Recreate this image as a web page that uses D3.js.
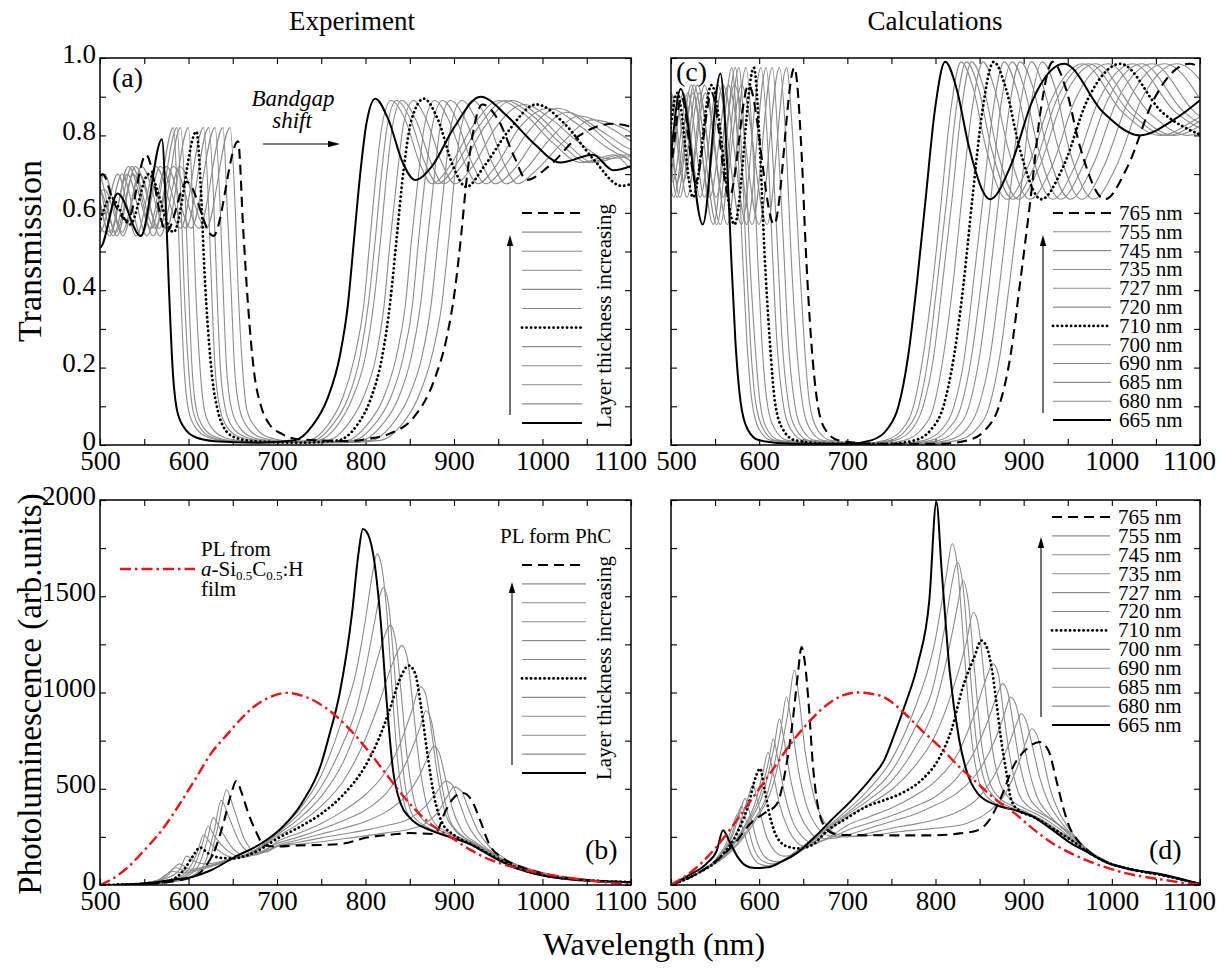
<!DOCTYPE html>
<html>
<head>
<meta charset="utf-8">
<script src="https://cdn.jsdelivr.net/npm/d3@7"></script>
<style>
  body { margin: 0; background: #fff; }
  svg { display: block; }
</style>
</head>
<body>
<svg id="chart" width="1227" height="969"></svg>
<script>
// ---------- axis ticks ----------
const xTickValues = [500,550,600,650,700,750,800,850,900,950,1000,1050,1100];
const xTickLabels = ["500","","600","","700","","800","","900","","1000","","1100"];
const transTickValues = [0,0.1,0.2,0.3,0.4,0.5,0.6,0.7,0.8,0.9,1.0];
const transTickLabels = ["0","","0.2","","0.4","","0.6","","0.8","","1.0"];
const plTickValues = [0,250,500,750,1000,1250,1500,1750,2000];
const plTickLabels = ["0","","500","","1000","","1500","","2000"];

// layer thicknesses (nm), thinnest first
const thickness = [665,680,685,690,700,710,720,727,735,745,755,765];

// ---------- (a) measured transmission: [wavelength nm, T] ----------
const expT665 = [[428,.56],[445,.62],[462,.55],[480,.64],[500,.51],[520,.65],[546,.54],[570,.79],[575,.58],[578,.40],[582,.20],[587,.09],[595,.045],[608,.02],[630,.01],[680,.006],[720,.012],[740,.05],[757,.12],[771,.23],[780,.36],[787,.53],[794,.70],[801,.83],[811,.895],[826,.84],[842,.73],[856,.685],[875,.72],[900,.82],[930,.90],[960,.85],[990,.78],[1020,.73],[1057,.75],[1080,.71],[1110,.73]];
const expT680 = [[438,.56],[455,.66],[472,.55],[491,.70],[511,.54],[532,.72],[558,.56],[583,.82],[588,.60],[591,.41],[595,.20],[600,.09],[608,.045],[622,.02],[644,.01],[695,.006],[736,.012],[757,.05],[774,.12],[788,.23],[798,.36],[805,.53],[812,.70],[819,.83],[829,.89],[845,.84],[861,.73],[875,.675],[895,.72],[920,.82],[951,.89],[982,.85],[1012,.78],[1043,.73],[1081,.75],[1104,.71],[1135,.73]];
const expT685 = [[441,.56],[458,.66],[476,.55],[494,.70],[515,.54],[536,.72],[562,.56],[587,.82],[592,.60],[595,.41],[600,.20],[605,.09],[613,.045],[626,.02],[649,.01],[700,.006],[742,.012],[762,.05],[780,.12],[794,.23],[803,.36],[811,.53],[818,.70],[825,.83],[835,.89],[851,.84],[867,.73],[882,.675],[901,.72],[927,.82],[958,.89],[989,.85],[1020,.78],[1051,.73],[1089,.75],[1112,.71],[1143,.73]];
const expT690 = [[444,.56],[462,.66],[479,.55],[498,.70],[519,.54],[540,.72],[567,.56],[591,.82],[597,.60],[600,.41],[604,.20],[609,.09],[617,.045],[631,.02],[654,.01],[706,.006],[747,.012],[768,.05],[785,.12],[800,.23],[809,.36],[817,.53],[824,.70],[831,.83],[841,.89],[857,.84],[874,.73],[888,.675],[908,.72],[934,.82],[965,.89],[996,.85],[1027,.78],[1058,.73],[1097,.75],[1121,.71]];
const expT700 = [[451,.56],[468,.66],[486,.55],[505,.70],[526,.54],[547,.72],[575,.56],[600,.82],[605,.60],[608,.41],[613,.20],[618,.09],[626,.045],[640,.02],[663,.01],[716,.006],[758,.012],[779,.05],[797,.12],[812,.23],[821,.36],[828,.53],[836,.70],[843,.83],[854,.89],[869,.84],[886,.73],[901,.675],[921,.72],[947,.82],[979,.88],[1011,.84],[1042,.78],[1074,.74],[1113,.75]];
const expT710 = [[457,.56],[475,.62],[493,.55],[512,.64],[534,.57],[555,.70],[583,.55],[609,.81],[614,.66],[618,.45],[622,.30],[627,.17],[633,.09],[640,.045],[652,.02],[673,.01],[726,.006],[769,.012],[790,.05],[806,.12],[819,.23],[828,.37],[835,.53],[843,.71],[852,.84],[866,.895],[882,.84],[899,.72],[914,.667],[934,.72],[961,.81],[993,.88],[1025,.83],[1057,.74],[1089,.67],[1128,.71]];
const expT720 = [[463,.56],[482,.66],[500,.55],[520,.70],[541,.54],[563,.72],[591,.56],[617,.82],[623,.60],[626,.41],[630,.20],[636,.09],[644,.045],[658,.02],[682,.01],[736,.006],[780,.012],[801,.05],[820,.12],[835,.23],[845,.36],[852,.53],[860,.70],[867,.83],[878,.89],[894,.84],[912,.73],[927,.675],[947,.72],[974,.82],[1007,.87],[1039,.83],[1072,.77],[1104,.73]];
const expT727 = [[468,.56],[486,.66],[505,.55],[525,.70],[547,.54],[568,.72],[597,.56],[623,.82],[629,.60],[632,.41],[636,.20],[642,.09],[650,.045],[665,.02],[689,.01],[743,.006],[787,.012],[809,.05],[828,.12],[843,.23],[853,.36],[860,.53],[868,.70],[876,.83],[887,.89],[903,.84],[920,.73],[936,.675],[957,.72],[984,.81],[1017,.87],[1050,.83],[1082,.77],[1115,.73]];
const expT735 = [[473,.56],[492,.66],[511,.55],[531,.70],[553,.54],[575,.72],[603,.56],[630,.82],[636,.60],[639,.41],[643,.20],[649,.09],[658,.045],[672,.02],[696,.01],[752,.006],[796,.012],[818,.05],[837,.12],[852,.23],[862,.36],[870,.53],[878,.70],[885,.83],[896,.89],[913,.84],[931,.73],[946,.675],[967,.71],[995,.80],[1028,.86],[1061,.82],[1094,.77],[1127,.74]];
const expT745 = [[479,.56],[499,.66],[518,.55],[538,.70],[560,.54],[583,.72],[612,.56],[639,.82],[644,.60],[648,.41],[652,.20],[658,.09],[667,.045],[681,.02],[706,.01],[762,.006],[807,.012],[829,.05],[848,.12],[864,.23],[874,.36],[882,.53],[890,.70],[897,.83],[909,.89],[925,.84],[943,.73],[959,.675],[980,.71],[1008,.79],[1042,.85],[1076,.82],[1109,.77]];
const expT755 = [[486,.56],[505,.66],[525,.55],[545,.70],[568,.54],[590,.72],[620,.56],[647,.82],[653,.60],[656,.41],[661,.20],[666,.09],[676,.045],[690,.02],[715,.01],[772,.006],[817,.012],[840,.05],[859,.12],[875,.23],[886,.36],[894,.53],[901,.70],[909,.83],[921,.89],[938,.84],[956,.73],[972,.675],[993,.71],[1022,.78],[1056,.84],[1090,.82],[1124,.77]];
const expT765 = [[480,.58],[492,.64],[503,.70],[515,.63],[531,.58],[552,.75],[575,.55],[598,.68],[628,.54],[656,.785],[662,.55],[667,.37],[674,.19],[682,.10],[691,.055],[706,.028],[725,.015],[782,.01],[803,.016],[828,.03],[854,.07],[878,.17],[892,.28],[901,.40],[908,.54],[914,.68],[921,.80],[932,.88],[950,.84],[969,.74],[982,.685],[1007,.72],[1042,.80],[1080,.83],[1104,.82]];

// ---------- (c) calculated transmission ----------
const calcT665 = [[432,.70],[445,.90],[459,.68],[475,.91],[492,.64],[511,.92],[536,.57],[556,.96],[563,.76],[568,.50],[573,.27],[579,.11],[587,.04],[600,.012],[640,.003],[700,.003],[727,.012],[745,.04],[758,.10],[769,.23],[779,.42],[789,.64],[799,.86],[811,.99],[824,.92],[838,.77],[862,.635],[885,.72],[910,.89],[946,.985],[990,.86],[1032,.80],[1070,.84],[1110,.91]];
const calcT680 = [[442,.70],[455,.90],[469,.68],[486,.91],[503,.64],[523,.93],[548,.57],[569,.975],[576,.76],[581,.50],[586,.27],[592,.11],[600,.04],[614,.012],[654,.003],[716,.003],[743,.012],[762,.04],[775,.10],[786,.23],[797,.42],[807,.64],[817,.86],[829,.99],[843,.92],[857,.77],[881,.635],[905,.72],[931,.89],[967,.985],[1012,.86],[1055,.80],[1094,.84],[1135,.91]];
const calcT685 = [[445,.70],[458,.90],[473,.68],[489,.91],[507,.64],[526,.93],[552,.57],[573,.975],[580,.76],[585,.50],[590,.27],[596,.11],[605,.04],[618,.012],[659,.003],[721,.003],[749,.012],[767,.04],[781,.10],[792,.23],[802,.42],[813,.64],[823,.86],[835,.99],[849,.92],[863,.77],[888,.635],[912,.72],[937,.89],[974,.985],[1020,.86],[1063,.80],[1102,.84],[1143,.91]];
const calcT690 = [[448,.70],[462,.90],[476,.68],[493,.91],[510,.64],[530,.93],[556,.57],[577,.975],[584,.76],[589,.50],[595,.27],[601,.11],[609,.04],[623,.012],[664,.003],[726,.003],[754,.012],[773,.04],[786,.10],[798,.23],[808,.42],[819,.64],[829,.86],[841,.99],[855,.92],[869,.77],[894,.635],[918,.72],[944,.89],[982,.985],[1027,.86],[1071,.80],[1110,.84]];
const calcT700 = [[455,.70],[468,.90],[483,.68],[500,.91],[518,.64],[538,.93],[564,.57],[585,.975],[593,.76],[598,.50],[603,.27],[609,.11],[618,.04],[632,.012],[674,.003],[737,.003],[765,.012],[784,.04],[798,.10],[809,.23],[820,.42],[830,.64],[841,.86],[854,.99],[867,.92],[882,.77],[907,.635],[932,.72],[958,.89],[996,.985],[1042,.86],[1086,.80],[1126,.84]];
const calcT710 = [[461,.70],[475,.90],[490,.68],[507,.91],[525,.64],[546,.93],[572,.57],[594,.975],[601,.76],[606,.50],[612,.27],[618,.11],[627,.04],[641,.012],[683,.003],[747,.003],[776,.012],[795,.04],[809,.10],[821,.23],[832,.42],[842,.64],[853,.86],[866,.99],[880,.92],[895,.77],[920,.635],[945,.72],[972,.89],[1010,.985],[1057,.86],[1102,.80]];
const calcT720 = [[468,.70],[482,.90],[497,.68],[514,.91],[533,.64],[553,.93],[580,.57],[602,.975],[610,.76],[615,.50],[620,.27],[627,.11],[636,.04],[650,.012],[693,.003],[758,.003],[787,.012],[807,.04],[821,.10],[833,.23],[843,.42],[854,.64],[865,.86],[878,.99],[892,.92],[907,.77],[933,.635],[958,.72],[985,.89],[1024,.985],[1072,.86],[1117,.80]];
const calcT727 = [[472,.70],[486,.90],[502,.68],[519,.91],[538,.64],[559,.93],[586,.57],[608,.975],[615,.76],[621,.50],[626,.27],[633,.11],[642,.04],[656,.012],[700,.003],[765,.003],[795,.012],[814,.04],[829,.10],[841,.23],[852,.42],[863,.64],[873,.86],[887,.99],[901,.92],[916,.77],[942,.635],[967,.72],[995,.89],[1034,.985],[1082,.86],[1128,.80]];
const calcT735 = [[477,.70],[492,.90],[507,.68],[525,.91],[544,.64],[565,.93],[592,.57],[615,.975],[622,.76],[628,.50],[633,.27],[640,.11],[649,.04],[663,.012],[707,.003],[774,.003],[804,.012],[823,.04],[838,.10],[850,.23],[861,.42],[872,.64],[883,.86],[896,.99],[911,.92],[926,.77],[953,.635],[978,.72],[1006,.89],[1046,.985],[1094,.86],[1141,.80]];
const calcT745 = [[484,.70],[499,.90],[514,.68],[532,.91],[551,.64],[572,.93],[600,.57],[623,.975],[631,.76],[636,.50],[642,.27],[649,.11],[658,.04],[672,.012],[717,.003],[784,.003],[814,.012],[835,.04],[849,.10],[862,.23],[873,.42],[884,.64],[895,.86],[909,.99],[923,.92],[939,.77],[966,.635],[991,.72],[1019,.89],[1060,.985],[1109,.86]];
const calcT755 = [[490,.70],[505,.90],[521,.68],[539,.91],[559,.64],[580,.93],[609,.57],[631,.975],[639,.76],[645,.50],[651,.27],[657,.11],[666,.04],[681,.012],[727,.003],[795,.003],[825,.012],[846,.04],[861,.10],[873,.23],[884,.42],[896,.64],[907,.86],[921,.99],[936,.92],[951,.77],[979,.635],[1005,.72],[1033,.89],[1074,.985],[1124,.86]];
const calcT765 = [[482,.90],[497,.70],[512,.90],[528,.68],[546,.91],[566,.64],[588,.93],[617,.57],[640,.975],[648,.76],[653,.50],[659,.27],[666,.11],[675,.04],[690,.012],[736,.003],[805,.003],[836,.012],[857,.04],[872,.10],[885,.23],[896,.42],[908,.64],[919,.86],[933,.99],[948,.92],[964,.77],[992,.635],[1018,.72],[1047,.89],[1088,.985],[1139,.86]];

// ---------- (b) measured photoluminescence ----------
const expPL665 = [[500,0],[530,3],[555,10],[578,25],[604,42],[626,78],[652,145],[683,218],[706,300],[728,425],[750,630],[758,760],[771,1000],[785,1420],[792,1720],[797,1850],[803,1820],[810,1680],[817,1380],[824,950],[831,600],[840,420],[850,350],[873,285],[896,248],[919,210],[942,150],[966,95],[990,60],[1035,27],[1070,18],[1100,15]];
const expPL680 = [[500,0],[540,6],[565,25],[582,70],[595,62],[615,82],[640,118],[665,160],[685,210],[700,275],[725,390],[750,570],[775,880],[790,1120],[800,1380],[808,1620],[813,1720],[818,1660],[824,1420],[830,1020],[836,660],[843,440],[852,340],[870,290],[890,260],[910,230],[930,190],[950,135],[970,95],[1000,60],[1040,30],[1100,15]];
const expPL685 = [[500,0],[540,6],[568,28],[586,90],[598,72],[618,92],[645,128],[670,168],[700,268],[725,370],[750,510],[775,740],[790,920],[800,1120],[810,1360],[816,1500],[820,1545],[826,1460],[832,1160],[838,810],[845,510],[853,365],[870,300],[890,262],[910,230],[930,190],[950,135],[970,95],[1000,60],[1040,30],[1100,15]];
const expPL690 = [[500,0],[545,8],[572,32],[590,110],[602,82],[622,100],[648,132],[672,168],[700,260],[725,345],[750,460],[775,640],[800,950],[812,1150],[822,1300],[828,1350],[834,1270],[840,1010],[846,710],[853,480],[862,355],[880,292],[900,255],[920,215],[940,170],[960,120],[985,80],[1020,45],[1060,25],[1100,15]];
const expPL700 = [[500,0],[545,8],[575,35],[590,80],[598,150],[606,125],[620,110],[645,132],[672,165],[700,250],[725,320],[750,410],[775,540],[800,760],[815,940],[828,1120],[836,1210],[841,1245],[847,1185],[853,960],[860,660],[868,440],[878,322],[895,270],[915,230],[935,185],[955,135],[975,100],[1000,65],[1040,32],[1100,15]];
const expPL710 = [[500,0],[550,6],[580,25],[595,80],[605,150],[613,195],[622,165],[635,142],[650,138],[667,155],[683,190],[700,240],[725,300],[750,370],[775,470],[800,620],[815,760],[828,920],[838,1060],[849,1140],[856,1100],[862,950],[870,680],[878,450],[887,320],[900,260],[920,210],[942,155],[966,100],[990,62],[1035,30],[1100,15]];
const expPL720 = [[500,0],[550,6],[580,25],[598,70],[610,170],[617,260],[625,215],[640,160],[655,140],[672,158],[690,190],[700,225],[725,270],[750,320],[775,385],[800,470],[820,570],[838,720],[852,900],[862,1030],[868,990],[874,820],[881,580],[889,390],[900,290],[920,225],[942,160],[966,100],[990,62],[1035,30],[1100,15]];
const expPL727 = [[500,0],[552,6],[585,28],[604,80],[615,200],[622,305],[630,250],[645,175],[660,145],[676,160],[700,215],[725,250],[750,290],[775,335],[800,390],[822,470],[842,600],[857,760],[864,850],[868,905],[874,860],[880,700],[887,500],[895,340],[908,260],[925,215],[945,160],[966,100],[990,62],[1035,30],[1100,15]];
const expPL735 = [[500,0],[555,6],[590,30],[610,90],[621,230],[628,350],[636,290],[650,190],[665,150],[682,165],[700,205],[725,235],[750,265],[775,295],[800,330],[825,385],[845,460],[860,560],[870,660],[877,720],[883,690],[890,560],[898,400],[908,290],[925,220],[945,162],[966,100],[990,62],[1035,30],[1100,15]];
const expPL745 = [[500,0],[558,6],[595,30],[617,100],[629,280],[637,440],[645,360],[658,220],[672,165],[688,172],[700,200],[725,222],[750,245],[775,265],[800,285],[825,310],[850,345],[868,410],[880,480],[891,540],[898,520],[906,430],[915,320],[928,230],[945,165],[966,100],[990,62],[1035,30],[1100,15]];
const expPL755 = [[500,0],[560,6],[600,35],[622,110],[634,320],[643,495],[651,400],[663,240],[676,170],[690,180],[700,200],[725,212],[750,225],[775,240],[800,255],[825,272],[850,290],[868,320],[882,380],[893,465],[900,510],[908,490],[916,400],[926,290],[938,210],[955,145],[975,95],[1000,62],[1040,30],[1100,15]];
const expPL765 = [[500,0],[550,5],[590,25],[607,45],[620,100],[630,185],[640,330],[648,470],[654,540],[660,480],[667,380],[676,280],[686,205],[700,200],[725,206],[750,208],[775,215],[800,245],[830,262],[850,270],[878,265],[891,390],[900,455],[910,478],[920,440],[930,330],[940,210],[955,140],[975,95],[1000,60],[1040,30],[1100,15]];

// ---------- (d) calculated photoluminescence ----------
const calcPL665 = [[500,0],[520,50],[540,110],[552,180],[559,285],[566,230],[575,150],[585,100],[595,88],[610,92],[625,120],[644,171],[663,249],[682,338],[705,441],[728,561],[742,650],[754,790],[765,930],[780,1150],[793,1480],[801,1990],[807,1634],[816,1115],[827,752],[835,596],[848,475],[869,415],[890,389],[911,354],[933,285],[954,216],[975,164],[996,112],[1017,86],[1060,52],[1100,5]];
const calcPL680 = [[500,0],[530,60],[550,130],[563,220],[571,320],[576,370],[581,300],[590,170],[600,110],[610,100],[625,125],[645,185],[665,260],[685,330],[700,390],[725,500],[750,650],[775,900],[800,1280],[812,1600],[819,1772],[825,1650],[832,1250],[840,800],[848,560],[858,460],[875,410],[895,385],[915,350],[935,290],[955,230],[975,165],[996,115],[1017,88],[1060,48],[1100,5]];
const calcPL685 = [[500,0],[530,60],[552,135],[567,240],[575,350],[580,410],[585,340],[594,190],[604,125],[615,110],[630,130],[650,195],[670,270],[700,375],[725,470],[750,590],[775,800],[800,1080],[812,1380],[820,1600],[825,1677],[831,1560],[838,1180],[846,760],[855,550],[866,460],[882,410],[900,380],[918,345],[935,290],[955,230],[975,165],[996,115],[1017,88],[1060,48],[1100,5]];
const calcPL690 = [[500,0],[530,60],[553,140],[570,260],[579,390],[584,450],[589,380],[598,220],[608,140],[620,120],[635,140],[655,205],[675,280],[700,365],[725,445],[750,540],[775,700],[800,940],[815,1220],[825,1450],[831,1582],[837,1480],[844,1130],[852,740],[861,540],[872,455],[888,410],[905,375],[922,335],[940,280],[958,225],[975,165],[996,115],[1017,88],[1060,48],[1100,5]];
const calcPL700 = [[500,0],[530,60],[555,150],[575,280],[586,430],[593,520],[598,440],[607,270],[617,180],[628,150],[642,165],[660,215],[680,285],[700,355],[725,420],[750,495],[775,610],[800,780],[820,1020],[835,1260],[843,1417],[849,1340],[856,1040],[864,720],[873,530],[884,450],[900,400],[918,360],[935,310],[952,250],[970,180],[996,115],[1017,88],[1060,48],[1100,5]];
const calcPL710 = [[500,0],[530,60],[555,140],[575,270],[588,420],[596,560],[601,605],[606,500],[612,360],[620,250],[632,200],[645,190],[660,208],[678,285],[699,346],[721,406],[742,441],[763,480],[784,545],[805,666],[818,804],[831,1028],[844,1184],[852,1270],[858,1236],[864,1120],[869,950],[874,769],[880,596],[886,440],[894,390],[911,354],[933,294],[954,233],[975,164],[996,115],[1017,86],[1060,48],[1100,5]];
const calcPL720 = [[500,0],[530,60],[558,150],[580,280],[597,450],[605,600],[610,690],[615,600],[623,420],[633,290],[642,225],[652,200],[665,215],[685,265],[700,310],[725,355],[750,400],[775,460],[800,540],[825,680],[845,900],[858,1080],[865,1150],[871,1100],[877,900],[885,650],[894,480],[905,410],[920,370],[937,320],[955,250],[975,170],[996,115],[1017,88],[1060,48],[1100,5]];
const calcPL727 = [[500,0],[530,60],[560,155],[582,290],[602,480],[611,650],[616,760],[621,660],[629,470],[639,320],[649,250],[660,220],[678,240],[700,285],[725,322],[750,360],[775,405],[800,460],[825,560],[845,700],[860,860],[870,990],[876,1046],[882,1000],[888,840],[896,620],[905,470],[918,390],[935,330],[955,260],[975,175],[996,115],[1017,88],[1060,48],[1100,5]];
const calcPL735 = [[500,0],[530,60],[562,160],[585,300],[606,500],[617,720],[623,864],[628,760],[636,540],[646,370],[657,280],[670,240],[688,245],[700,260],[725,295],[750,330],[775,365],[800,415],[825,480],[850,600],[868,760],[879,900],[885,977],[891,940],[898,790],[906,600],[915,460],[928,370],[945,290],[962,220],[980,160],[1000,110],[1020,85],[1060,48],[1100,5]];
const calcPL745 = [[500,0],[530,60],[565,165],[590,310],[612,520],[624,790],[631,977],[636,860],[644,610],[654,410],[666,300],[680,255],[700,250],[725,270],[750,295],[775,315],[800,340],[825,380],[848,450],[868,580],[884,740],[893,850],[897,890],[903,850],[910,720],[918,560],[928,430],[940,340],[955,260],[972,185],[996,120],[1017,88],[1060,48],[1100,5]];
const calcPL755 = [[500,0],[530,60],[567,170],[595,330],[618,560],[632,880],[640,1115],[645,980],[652,700],[662,460],[675,320],[690,260],[710,252],[735,262],[760,278],[785,288],[810,300],[835,320],[860,380],[880,480],[895,640],[904,760],[909,812],[915,780],[922,660],[930,500],[940,380],[952,290],[968,200],[990,130],[1017,90],[1060,48],[1100,5]];
const calcPL765 = [[500,0],[530,60],[555,140],[575,230],[590,320],[605,370],[620,420],[630,600],[638,850],[644,1100],[648,1236],[652,1150],[656,950],[661,620],[667,400],[675,300],[686,265],[700,260],[750,258],[800,258],[827,268],[848,285],[861,337],[873,441],[890,631],[903,705],[918,743],[928,700],[937,545],[945,400],[952,300],[960,240],[975,170],[996,115],[1017,86],[1060,50],[1100,5]];

// ---------- PL of the bare a-Si0.5C0.5:H film ----------
const filmPLexp = [[500,0],[515,35],[532,94],[550,180],[570,286],[590,420],[607,545],[625,680],[645,789],[656,847],[675,930],[690,972],[711,998],[734,974],[757,914],[780,819],[803,698],[826,560],[850,422],[873,319],[896,250],[919,181],[942,129],[965,95],[989,69],[1012,50],[1035,34],[1060,20],[1080,10],[1100,3]];
const filmPLcalc = [[500,0],[530,95],[551,195],[572,320],[593,455],[614,590],[636,735],[657,850],[678,940],[695,985],[710,1000],[725,995],[742,975],[763,900],[784,805],[805,717],[827,614],[848,527],[869,441],[890,372],[911,290],[933,216],[954,164],[975,121],[996,88],[1017,60],[1040,40],[1060,26],[1080,12],[1100,2]];

const expTrans = [expT665,expT680,expT685,expT690,expT700,expT710,expT720,expT727,expT735,expT745,expT755,expT765];
const calcTrans = [calcT665,calcT680,calcT685,calcT690,calcT700,calcT710,calcT720,calcT727,calcT735,calcT745,calcT755,calcT765];
const expPL = [expPL665,expPL680,expPL685,expPL690,expPL700,expPL710,expPL720,expPL727,expPL735,expPL745,expPL755,expPL765];
const calcPL = [calcPL665,calcPL680,calcPL685,calcPL690,calcPL700,calcPL710,calcPL720,calcPL727,calcPL735,calcPL745,calcPL755,calcPL765];

// ---------- drawing ----------
const FONT = '"Liberation Serif", "Times New Roman", Times, serif';
const svg = d3.select("#chart");
const defs = svg.append("defs");

const styles = {
  solid:  { stroke: "#000", width: 2.0, dash: null, cap: "butt" },
  dotted: { stroke: "#000", width: 2.8, dash: "0.1 4.4", cap: "round" },
  dashed: { stroke: "#000", width: 2.1, dash: "10 6", cap: "butt" },
  gray:   { stroke: "#8c8c8c", width: 1.1, dash: null, cap: "butt" },
  film:   { stroke: "#e8141b", width: 2.4, dash: "11 4 2.5 4", cap: "butt" }
};
const styleOf = t => t === 665 ? "solid" : t === 710 ? "dotted" : t === 765 ? "dashed" : "gray";

function applyStyle(sel, key) {
  const s = styles[key];
  sel.attr("fill", "none").attr("stroke", s.stroke).attr("stroke-width", s.width)
     .attr("stroke-linecap", s.cap).attr("stroke-linejoin", "round");
  if (s.dash) sel.attr("stroke-dasharray", s.dash);
  return sel;
}

function styleAxis(g) {
  g.attr("font-family", FONT).attr("font-size", 27);
  g.select(".domain").remove();
  g.selectAll(".tick line").attr("stroke", "#000").attr("stroke-width", 1.1);
  g.selectAll(".tick text").attr("fill", "#000");
}

function drawPanel(p) {
  const x = d3.scaleLinear().domain([500, 1100]).range([p.left, p.right]);
  const y = d3.scaleLinear().domain([0, p.yMax]).range([p.bottom, p.top]);
  const g = svg.append("g");

  defs.append("clipPath").attr("id", "clip-" + p.key)
    .append("rect").attr("x", p.left).attr("y", p.top)
    .attr("width", p.right - p.left).attr("height", p.bottom - p.top);

  const xLab = d => xTickLabels[xTickValues.indexOf(d)];
  const gx = g.append("g").attr("transform", `translate(0,${p.bottom})`)
    .call(d3.axisBottom(x).tickValues(xTickValues).tickSize(-6).tickPadding(6).tickFormat(xLab));
  styleAxis(gx);
  gx.selectAll(".tick text").attr("dx", d => d === 1100 ? -11 : (d === 500 && p.rightSide ? 5 : 0));
  const gt = g.append("g").attr("transform", `translate(0,${p.top})`)
    .call(d3.axisTop(x).tickValues(xTickValues).tickSize(-6).tickFormat(""));
  styleAxis(gt);

  const yLab = d => p.showYLabels ? p.yLabels[p.yTicks.indexOf(d)] : "";
  const gy = g.append("g").attr("transform", `translate(${p.left},0)`)
    .call(d3.axisLeft(y).tickValues(p.yTicks).tickSize(-6).tickPadding(4).tickFormat(yLab));
  styleAxis(gy);
  gy.selectAll(".tick text").attr("dy", "0.15em");
  const gr = g.append("g").attr("transform", `translate(${p.right},0)`)
    .call(d3.axisRight(y).tickValues(p.yTicks).tickSize(-6).tickFormat(""));
  styleAxis(gr);

  // panel tag
  g.append("text").attr("x", p.tag[1]).attr("y", p.tag[2]).text(p.tag[0])
    .attr("font-family", FONT).attr("font-size", 28);

  const line = d3.line().x(d => x(d[0])).y(d => y(d[1])).curve(d3.curveMonotoneX);
  const plot = g.append("g").attr("clip-path", `url(#clip-${p.key})`);

  const order = [1,2,3,4,6,7,8,9,10];
  order.forEach(i => applyStyle(plot.append("path").datum(p.series[i]).attr("d", line), "gray"));
  [0, 5, 11].forEach(i => applyStyle(plot.append("path").datum(p.series[i]).attr("d", line), styleOf(thickness[i])));
  if (p.film) applyStyle(plot.append("path").datum(p.film).attr("d", line), "film");

  g.append("rect").attr("x", p.left).attr("y", p.top)
    .attr("width", p.right - p.left).attr("height", p.bottom - p.top)
    .attr("fill", "none").attr("stroke", "#000").attr("stroke-width", 1.5);
  return { x, y, g };
}

function arrowUp(g, x, y1, y2) {
  g.append("line").attr("x1", x).attr("x2", x).attr("y1", y1).attr("y2", y2 + 8)
    .attr("stroke", "#000").attr("stroke-width", 1.1);
  g.append("path").attr("d", `M${x},${y2} L${x - 3.2},${y2 + 11} L${x + 3.2},${y2 + 11} Z`).attr("fill", "#000");
}

function legend(g, cfg) {
  const ly = d3.scaleLinear().domain([0, thickness.length - 1]).range([cfg.yTop, cfg.yBottom]);
  const rows = thickness.slice().reverse();
  rows.forEach((t, i) => {
    applyStyle(g.append("line").attr("x1", cfg.x1).attr("x2", cfg.x2)
      .attr("y1", ly(i)).attr("y2", ly(i)), styleOf(t));
    if (cfg.labels) {
      g.append("text").attr("x", cfg.x2 + 8).attr("y", ly(i)).attr("dy", "0.33em")
        .attr("font-family", FONT).attr("font-size", 21).text(t + " nm");
    }
  });
  arrowUp(g, cfg.arrowX, cfg.arrowY1, cfg.arrowY2);
  if (cfg.rotText) {
    g.append("text").attr("transform", `translate(${cfg.rotText[0]},${cfg.rotText[1]}) rotate(-90)`)
      .attr("text-anchor", "middle").attr("font-family", FONT).attr("font-size", 21)
      .text("Layer thickness increasing");
  }
}

const pa = drawPanel({ key: "a", left: 100, right: 631, top: 58, bottom: 445, yMax: 1,
  yTicks: transTickValues, yLabels: transTickLabels, showYLabels: true,
  series: expTrans, film: null, tag: ["(a)", 112, 87], rightSide: false });
const pc = drawPanel({ key: "c", left: 671, right: 1200, top: 58, bottom: 445, yMax: 1,
  yTicks: transTickValues, yLabels: transTickLabels, showYLabels: false,
  series: calcTrans, film: null, tag: ["(c)", 676, 81], rightSide: true });
const pb = drawPanel({ key: "b", left: 100, right: 631, top: 500, bottom: 885, yMax: 2000,
  yTicks: plTickValues, yLabels: plTickLabels, showYLabels: true,
  series: expPL, film: filmPLexp, tag: ["(b)", 585, 859], rightSide: false });
const pd = drawPanel({ key: "d", left: 671, right: 1200, top: 500, bottom: 885, yMax: 2000,
  yTicks: plTickValues, yLabels: plTickLabels, showYLabels: false,
  series: calcPL, film: filmPLcalc, tag: ["(d)", 1149, 859], rightSide: true });

// legends
legend(pa.g, { x1: 522, x2: 582, yTop: 213, yBottom: 423, arrowX: 510, arrowY1: 415, arrowY2: 235, rotText: [611, 316] });
legend(pc.g, { x1: 1053, x2: 1111, yTop: 213, yBottom: 420, labels: true, arrowX: 1043, arrowY1: 413, arrowY2: 235 });
legend(pb.g, { x1: 522, x2: 586, yTop: 565, yBottom: 773, arrowX: 512, arrowY1: 765, arrowY2: 582, rotText: [611, 668] });
legend(pd.g, { x1: 1052, x2: 1110, yTop: 517, yBottom: 725, labels: true, arrowX: 1041, arrowY1: 717, arrowY2: 537 });

pb.g.append("text").attr("x", 500).attr("y", 543).attr("font-family", FONT).attr("font-size", 21).text("PL form PhC");

// film legend entry
applyStyle(pb.g.append("line").attr("x1", 120).attr("x2", 195).attr("y1", 569).attr("y2", 569), "film");
const filmText = pb.g.append("g").attr("font-family", FONT).attr("font-size", 21);
filmText.append("text").attr("x", 201).attr("y", 556).text("PL from");
const t2 = filmText.append("text").attr("x", 201).attr("y", 576);
t2.append("tspan").attr("font-style", "italic").text("a");
t2.append("tspan").text("-Si");
t2.append("tspan").attr("font-size", 13).attr("dy", 4).text("0.5");
t2.append("tspan").attr("dy", -4).text("C");
t2.append("tspan").attr("font-size", 13).attr("dy", 4).text("0.5");
t2.append("tspan").attr("dy", -4).text(":H");
filmText.append("text").attr("x", 201).attr("y", 596).text("film");

// bandgap shift annotation
const ann = pa.g.append("g").attr("font-family", FONT).attr("font-size", 23).attr("font-style", "italic").attr("text-anchor", "middle");
ann.append("text").attr("x", 293).attr("y", 106).text("Bandgap");
ann.append("text").attr("x", 292).attr("y", 128).text("shift");
pa.g.append("line").attr("x1", 263).attr("x2", 330).attr("y1", 144).attr("y2", 144).attr("stroke", "#000").attr("stroke-width", 1.1);
pa.g.append("path").attr("d", "M340,144 L328,140.8 L328,147.2 Z").attr("fill", "#000");

// titles and axis labels
const lab = svg.append("g").attr("font-family", FONT).attr("fill", "#000");
lab.append("text").attr("x", 352).attr("y", 30).attr("text-anchor", "middle").attr("font-size", 27).text("Experiment");
lab.append("text").attr("x", 935).attr("y", 30).attr("text-anchor", "middle").attr("font-size", 27).text("Calculations");
lab.append("text").attr("transform", "translate(41,251) rotate(-90)").attr("text-anchor", "middle").attr("font-size", 34).text("Transmission");
lab.append("text").attr("transform", "translate(41,694) rotate(-90)").attr("text-anchor", "middle").attr("font-size", 33).text("Photoluminescence (arb.units)");
lab.append("text").attr("x", 654).attr("y", 955).attr("text-anchor", "middle").attr("font-size", 32).text("Wavelength (nm)");
</script>
</body>
</html>
